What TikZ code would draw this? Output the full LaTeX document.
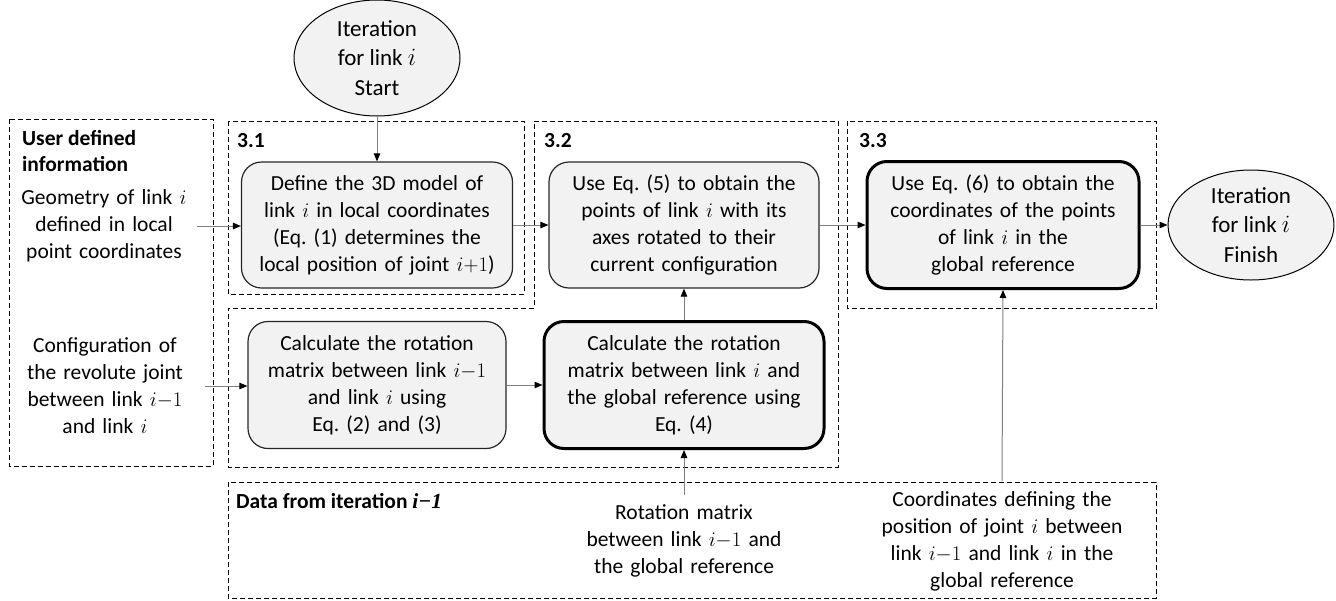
\documentclass[tikz,border=0pt]{standalone}
\usepackage{fontspec}
\setmainfont{Carlito}
\newfontfamily\eqfont{Liberation Serif}
\usetikzlibrary{shapes.geometric,arrows.meta}

\begin{document}
\frenchspacing
\begin{tikzpicture}[x=1pt,y=-1pt,
  every node/.style={font=\fontsize{21.5}{27}\selectfont},
  proc/.style={draw=black!85, line width=1.2pt, fill=black!5, rounded corners=20pt,
    align=center, inner sep=0pt, text width=#1},
  keyproc/.style={proc=#1, draw=black, line width=3pt},
  term/.style={ellipse, draw=black, line width=1pt, fill=black!5, align=center,
    inner sep=0pt, font=\fontsize{23}{29.5}\selectfont},
  info/.style={align=center, inner xsep=0pt, inner ysep=10pt, text width=#1},
  region/.style={draw=black, line width=1pt, dash pattern=on 5pt off 3pt},
  heading/.style={anchor=base west, inner sep=0pt, font=\fontsize{21.5}{26}\selectfont\bfseries, align=left},
  flow/.style={draw=black!50, line width=1pt, -{Triangle[length=8pt,width=6.5pt,color=black]}}
]
\useasboundingbox (0,0) rectangle (1336,600);

% dashed grouping regions
\draw[region] (9,119) rectangle (213,466);
\draw[region] (228,121) rectangle (524,294);
\draw[region] (534,121) -- (838,121) -- (838,467) -- (228,467) -- (228,308) -- (534,308) -- cycle;
\draw[region] (847,121) rectangle (1156,308);
\draw[region] (228,482) rectangle (1156,598);

% region headings (base anchor sits on the last line)
\node[heading] (userhead) at (22,171) {User defined\\information};
\node[heading] at (237,147) {3.1};
\node[heading] at (544,147) {3.2};
\node[heading] at (859,147) {3.3};
\node[heading] (prevhead) at (236,508) {Data from iteration {\eqfont\itshape i−1}};

% terminals
\node[term, minimum width=166pt, minimum height=116pt] (start) at (377,58)
  {Iteration\\for link $i$\\Start};
\node[term, minimum width=166pt, minimum height=110pt] (finish) at (1251,225)
  {Iteration\\for link $i$\\Finish};

% process steps
\node[proc=271pt, minimum height=126pt] (define) at (377,225)
  {Define the 3D model of\\link $i$ in local coordinates\\(Eq. (1) determines the\\local position of joint $i{+}1$)};
\node[proc=270pt, minimum height=126pt] (rotpts) at (684,225)
  {Use Eq. (5) to obtain the\\points of link $i$ with its\\axes rotated to their\\current configuration};
\node[keyproc=272pt, minimum height=127pt] (global) at (1003,225)
  {Use Eq. (6) to obtain the\\coordinates of the points\\of link $i$ in the\\global reference};
\node[proc=258pt, minimum height=127pt] (relrot) at (377,385)
  {Calculate the rotation\\matrix between link $i{-}1$\\and link $i$ using\\Eq. (2) and (3)};
\node[keyproc=280pt, minimum height=127pt] (absrot) at (684,385)
  {Calculate the rotation\\matrix between link $i$ and\\the global reference using\\Eq. (4)};

% inputs
\node[info=186pt] (geom) at (104,226)
  {Geometry of link $i$\\defined in local\\point coordinates};
\node[info=200pt] (config) at (105,386)
  {Configuration of\\the revolute joint\\between link $i{-}1$\\and link $i$};
\node[info=220pt] (prevrot) at (684,541)
  {Rotation matrix\\between link $i{-}1$ and\\the global reference};
\node[info=270pt] (prevpos) at (1002,541)
  {Coordinates defining the\\position of joint $i$ between\\link $i{-}1$ and link $i$ in the\\global reference};

% connectors
\draw[flow] (start) -- (define);
\draw[flow] (geom.east) -- (define.west |- geom.east);
\draw[flow] (define) -- (rotpts);
\draw[flow] (rotpts) -- (global);
\draw[flow] (global) -- (finish);
\draw[flow] (config.east) -- (relrot.west |- config.east);
\draw[flow] (relrot) -- (absrot);
\draw[flow] (absrot) -- (rotpts);
\draw[flow] (prevrot.north) -- (absrot.south);
\draw[flow] (prevpos.north) -- (global.south);
\end{tikzpicture}
\end{document}
